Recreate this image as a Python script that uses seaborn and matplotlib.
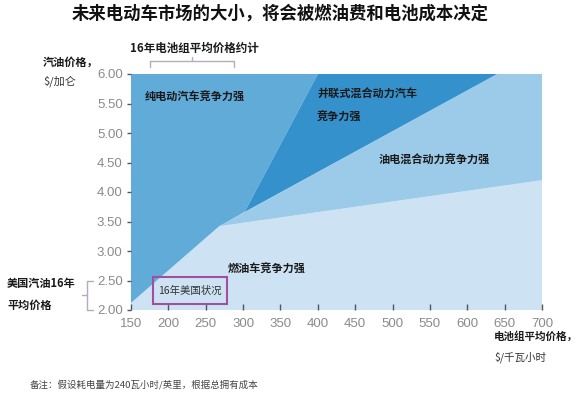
import matplotlib
matplotlib.use("Agg")
import matplotlib.pyplot as plt
import seaborn as sns

# 区域顶点（电池组价格 $/kWh, 汽油价格 $/加仑）
bev_x = [150, 268, 302, 400, 150]
bev_y = [2.12, 3.42, 3.66, 6.00, 6.00]
phev_x = [302, 640, 400]
phev_y = [3.66, 6.00, 6.00]
hybrid_x = [268, 700, 700, 640]
hybrid_y = [3.42, 4.20, 6.00, 6.00]
ice_x = [150, 700, 700, 268, 150]
ice_y = [2.00, 2.00, 4.20, 3.42, 2.12]

x_ticks = [150, 200, 250, 300, 350, 400, 450, 500, 550, 600, 650, 700]
y_ticks = [2.0, 2.5, 3.0, 3.5, 4.0, 4.5, 5.0, 5.5, 6.0]

# 16年电池组价格区间 / 16年美国汽油价格区间
battery_2016 = [175, 288]
gas_2016 = [2.0, 2.5]

sns.set_theme(style="white")
plt.rcParams["font.family"] = ["Noto Sans CJK SC", "DejaVu Sans"]
num_font = ["Liberation Sans", "DejaVu Sans"]

fig = plt.figure(figsize=(5.82, 3.97), dpi=100)
ax = fig.add_axes([131 / 582, 1 - 310 / 397, 411 / 582, 236 / 397])

ax.fill(ice_x, ice_y, color="#cde3f4", lw=0, zorder=1)
ax.fill(hybrid_x, hybrid_y, color="#9ccbe9", lw=0, zorder=1)
ax.fill(bev_x, bev_y, color="#61abd9", lw=0, zorder=1)
ax.fill(phev_x, phev_y, color="#3591cc", lw=0, zorder=1)

ax.set_xlim(150, 700)
ax.set_ylim(2.0, 6.0)
ax.set_xticks(x_ticks)
ax.set_yticks(y_ticks)
ax.set_yticklabels([f"{v:.2f}" for v in y_ticks], family=num_font)
ax.set_xticklabels([str(v) for v in x_ticks], family=num_font)
ax.tick_params(axis="y", direction="out", length=3, width=1, color="#555555",
               labelsize=9.5, labelcolor="#8a8a8a", pad=3, left=True)
ax.tick_params(axis="x", direction="in", length=4, width=1, color="#555555",
               labelsize=9.5, labelcolor="#8a8a8a", pad=6, bottom=True)
for s in ax.spines.values():
    s.set_visible(False)
ax.set_axisbelow(False)

bold = dict(fontsize=8, fontweight="bold", color="#1a1a1a", va="center")
ax.text(169, 5.61, "纯电动汽车竞争力强", **bold)
ax.text(399, 5.66, "并联式混合动力汽车", **bold)
ax.text(399, 5.27, "竞争力强", **bold)
ax.text(481, 4.53, "油电混合动力竞争力强", **bold)
ax.text(280, 2.69, "燃油车竞争力强", **bold)

# 16年美国状况方框
ax.add_patch(plt.Rectangle((180, 2.10), 98, 0.46, fill=False,
                           edgecolor="#a24fa0", lw=1.5, zorder=3))
ax.text(229, 2.32, "16年美国状况", fontsize=7.5, color="#333333",
        ha="center", va="center")

# 顶部括号
br = "#b9aabb"
b0, b1 = battery_2016
bm = (b0 + b1) / 2
ax.plot([b0, b0, b1, b1], [6.12, 6.22, 6.22, 6.12], color=br, lw=1, clip_on=False)
ax.plot([bm, bm], [6.22, 6.29], color=br, lw=1, clip_on=False)

# 左侧括号
g0, g1 = gas_2016
gm = (g0 + g1) / 2
ax.plot([99, 91, 91, 99], [g0, g0, g1, g1], color=br, lw=1, clip_on=False)
ax.plot([91, 84], [gm, gm], color=br, lw=1, clip_on=False)

fig.text(280 / 582, 1 - 14 / 397, "未来电动车市场的大小，将会被燃油费和电池成本决定",
         fontsize=12.5, fontweight="bold", color="#111111", ha="center", va="center")
fig.text(130 / 582, 1 - 48 / 397, "16年电池组平均价格约计",
         fontsize=8.3, fontweight="bold", color="#1a1a1a", va="center")
fig.text(43 / 582, 1 - 62 / 397, "汽油价格，", fontsize=8, fontweight="bold",
         color="#1a1a1a", va="center")
fig.text(43 / 582, 1 - 81 / 397, "$/加仑", fontsize=8, color="#333333", va="center")
fig.text(7 / 582, 1 - 284 / 397, "美国汽油16年", fontsize=8, fontweight="bold",
         color="#1a1a1a", va="center")
fig.text(7 / 582, 1 - 305 / 397, "平均价格", fontsize=8, fontweight="bold",
         color="#1a1a1a", va="center")
fig.text(494 / 582, 1 - 337 / 397, "电池组平均价格，", fontsize=7.6, fontweight="bold",
         color="#1a1a1a", va="center")
fig.text(494 / 582, 1 - 357 / 397, "$/千瓦小时", fontsize=7.6, color="#333333",
         va="center")
fig.text(30 / 582, 1 - 385 / 397, "备注：假设耗电量为240瓦小时/英里，根据总拥有成本",
         fontsize=6.8, color="#444444", va="center")

fig.savefig("out.png", dpi=100)
